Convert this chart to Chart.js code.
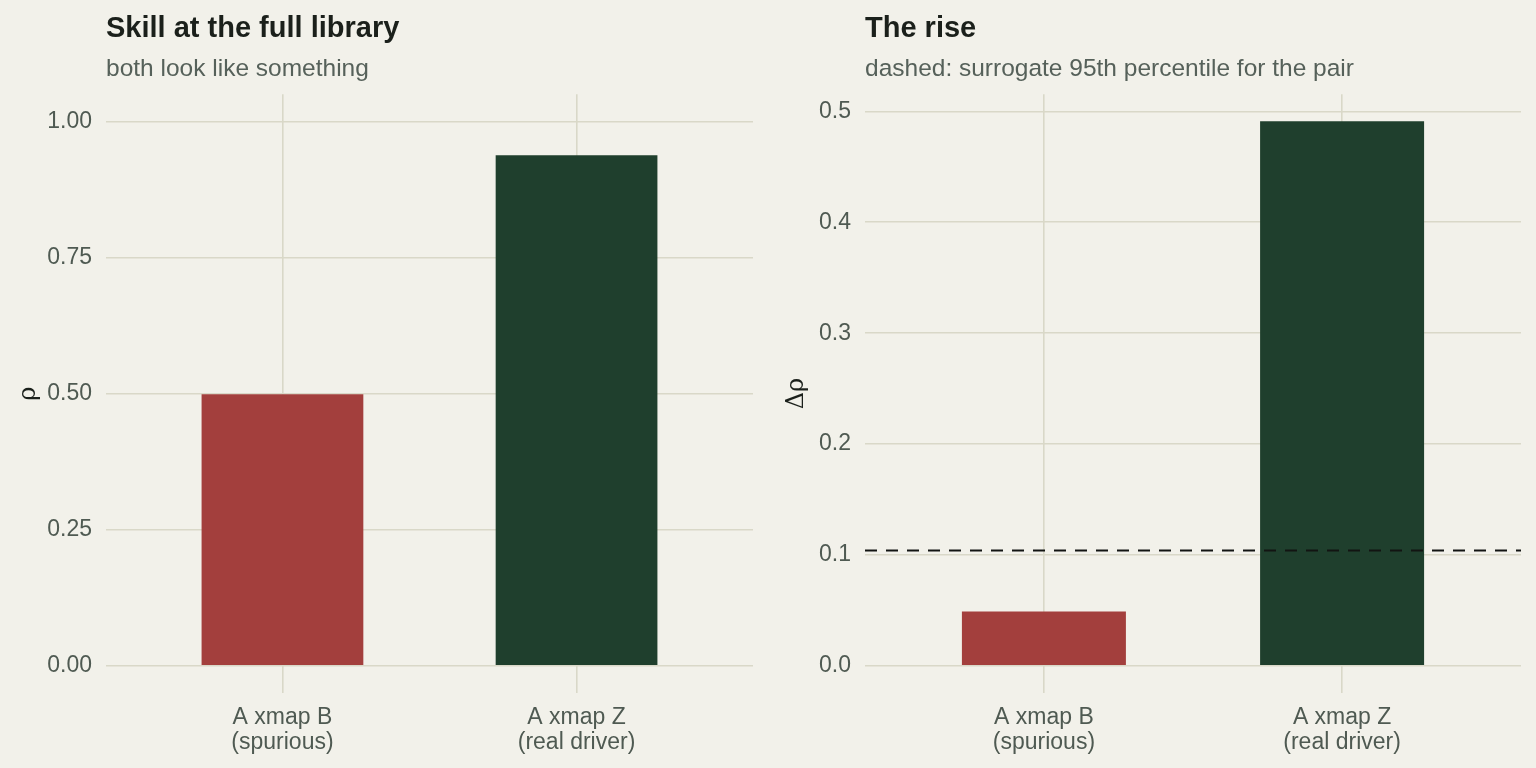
<!DOCTYPE html>
<html>
<head>
<meta charset="utf-8">
<script src="https://cdn.jsdelivr.net/npm/chart.js@4/dist/chart.umd.min.js"></script>
<style>
	html, body { margin: 0; padding: 0; background: #f2f1ea; }
	.row { display: flex; width: 1536px; height: 768px; }
	.cell { position: relative; width: 768px; height: 768px; }
</style>
</head>
<body>
<div class="row">
	<div class="cell"><canvas id="skillChart"></canvas></div>
	<div class="cell"><canvas id="riseChart"></canvas></div>
</div>
<script>
// data
const categories = [["A xmap B", "(spurious)"], ["A xmap Z", "(real driver)"]];
const categoryPos = [1, 2];
const skillValues = [0.499, 0.938];
const riseValues = [0.049, 0.491];
const surrogateP95 = 0.104;
const skillTicks = [0, 0.25, 0.5, 0.75, 1.0];
const riseTicks = [0, 0.1, 0.2, 0.3, 0.4, 0.5];
const barColors = ["#a33f3d", "#1f3f2d"];

// styles
const gridColor = "#d9d8c8";
const tickColor = "#4f5a52";
const fontFamily = "'Liberation Sans', Arial, sans-serif";
const xMin = 0.4, xMax = 2.6;

function makeChart(id, opts) {
	const ctx = document.getElementById(id);
	const points = categoryPos.map((x, i) => ({ x: x, y: opts.values[i] }));
	const datasets = [
		{
			type: "bar",
			data: points,
			backgroundColor: barColors,
			borderWidth: 0,
			barPercentage: 0.55,
			categoryPercentage: 1,
			order: 2,
		},
	];
	if (opts.threshold !== undefined) {
		datasets.push({
			type: "line",
			data: [{ x: xMin, y: opts.threshold }, { x: xMax, y: opts.threshold }],
			borderColor: "#121412",
			borderWidth: 2,
			borderDash: [12, 9],
			pointRadius: 0,
			fill: false,
			order: 1,
		});
	}
	return new Chart(ctx, {
		type: "bar",
		data: { datasets: datasets },
		options: {
			responsive: true,
			maintainAspectRatio: false,
			animation: false,
			layout: { padding: { left: 12, right: 15, top: 0, bottom: 0 } },
			plugins: {
				legend: { display: false },
				tooltip: { enabled: false },
				title: {
					display: true,
					text: opts.title,
					align: "start",
					fullSize: false,
					color: "#1b201b",
					font: { family: fontFamily, size: 29, weight: "bold" },
					padding: { top: 12, bottom: 4 },
				},
				subtitle: {
					display: true,
					text: opts.subtitle,
					align: "start",
					fullSize: false,
					color: "#56615a",
					font: { family: fontFamily, size: 24.5 },
					padding: { top: 4, bottom: 10 },
				},
			},
			scales: {
				x: {
					type: "linear",
					min: xMin,
					max: xMax,
					offset: false,
					afterBuildTicks: (s) => { s.ticks = categoryPos.map((v) => ({ value: v })); },
					afterFit: (s) => { s.height = 75; },
					ticks: {
						callback: (v) => categories[categoryPos.indexOf(v)],
						color: tickColor,
						font: { family: fontFamily, size: 23, lineHeight: 1.05 },
						padding: 13,
						maxRotation: 0,
					},
					grid: { color: gridColor, lineWidth: 1.6, drawTicks: false, offset: false },
					border: { display: false },
				},
				y: {
					min: opts.yMin,
					max: opts.yMax,
					afterBuildTicks: (s) => { s.ticks = opts.ticks.map((v) => ({ value: v })); },
					afterFit: (s) => { s.width = opts.axisWidth; },
					ticks: {
						callback: opts.fmt,
						color: tickColor,
						font: { family: fontFamily, size: 23 },
						padding: 14,
					},
					title: {
						display: true,
						text: opts.yTitle,
						color: "#1b201b",
						font: { family: "'DejaVu Serif', 'Liberation Serif', serif", size: 24 },
						padding: { top: 2, bottom: 0 },
					},
					grid: { color: gridColor, lineWidth: 1.6, drawTicks: false },
					border: { display: false },
				},
			},
		},
	});
}

makeChart("skillChart", {
	values: skillValues,
	title: "Skill at the full library",
	subtitle: "both look like something",
	yTitle: "ρ",
	yMin: -0.05,
	yMax: 1.05,
	ticks: skillTicks,
	fmt: (v) => v.toFixed(2),
	axisWidth: 94,
});

makeChart("riseChart", {
	values: riseValues,
	threshold: surrogateP95,
	title: "The rise",
	subtitle: "dashed: surrogate 95th percentile for the pair",
	yTitle: "Δρ",
	yMin: -0.0245,
	yMax: 0.5155,
	ticks: riseTicks,
	fmt: (v) => v.toFixed(1),
	axisWidth: 85,
});
</script>
</body>
</html>
